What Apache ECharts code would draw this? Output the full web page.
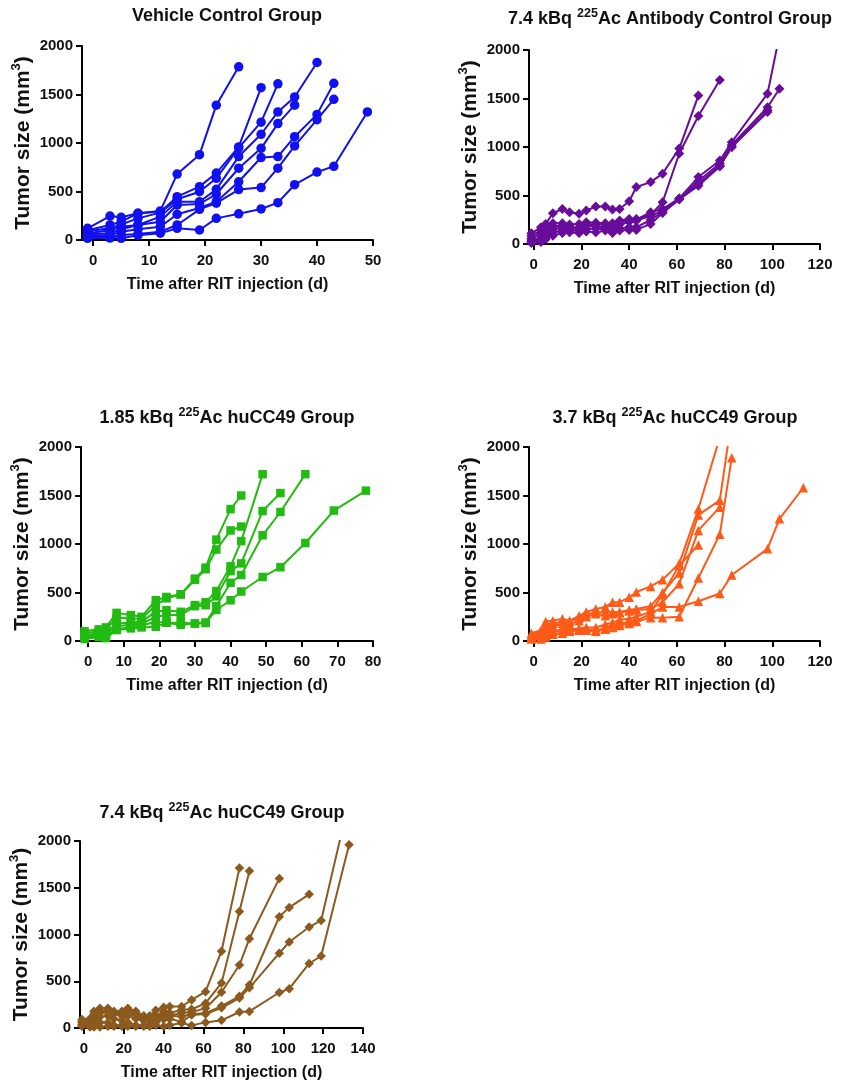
<!DOCTYPE html>
<html><head><meta charset="utf-8">
<script src="https://cdn.jsdelivr.net/npm/echarts@6/dist/echarts.min.js"></script>
<style>html,body{margin:0;padding:0;background:#fff}#c{width:845px;height:1082px}</style>
</head><body><div id="c"></div>
<script>
// ---------- DATA ----------
const tickLabelsY = [0, 500, 1000, 1500, 2000];

// Vehicle Control Group
const vehicleDays = [-1,3,5,8,12,15,19,22,26,30,33,36,40,43,49];
const vehicleMice = [
  [120,247,234,275,300,680,880,1390,1785],
  [100,155,189,275,290,447,550,690,960,1570],
  [90,120,160,223,282,420,498,636,950,1215,1610],
  [70,100,137,155,241,395,395,522,860,1090,1320,1475,1830],
  [60,69,110,155,189,361,371,474,740,945,1200,1390],
  [50,50,86,110,137,265,330,395,600,850,860,1065,1295,1615],
  [30,34,52,62,86,155,316,380,520,540,740,970,1240,1450],
  [17,20,17,50,70,120,103,223,270,320,385,570,700,760,1320]
];
const vehicleTicksX = [0,10,20,30,40,50];

// 7.4 kBq 225Ac Antibody Control Group
const abDays = [-1,3,5,8,12,15,19,22,26,30,33,36,40,43,49,54,61,69,78,83,98,103];
const abMice = [
  [110,172,207,317,362,328,311,345,386,386,355,360,441,587,638,725,984,1530],
  [86,138,180,214,214,200,207,224,220,214,214,241,259,259,300,431,933,1320,1690],
  [60,100,150,180,190,180,166,200,200,200,200,230,250,250,328,360,470,690,860,1050,1550,2150],
  [40,60,110,150,172,160,160,190,180,172,172,200,230,240,290,340,470,650,830,1020,1410,1600],
  [25,34,80,120,138,140,138,155,160,150,138,160,172,172,250,330,466,620,810,1000,1380],
  [10,20,50,86,114,120,114,130,120,138,114,138,145,145,207,320,460,600,800,1000,1360]
];
const abTicksX = [0,20,40,60,80,100,120];

// 1.85 kBq 225Ac huCC49 Group
const lowDays = [-1,3,5,8,12,15,19,22,26,30,33,36,40,43,49,54,61,69,78];
const lowMice = [
  [100,120,140,290,267,249,420,454,482,643,756,1045,1360,1500],
  [80,100,120,240,233,230,369,440,480,630,740,943,1140,1180],
  [60,80,90,180,188,200,301,318,301,370,400,515,770,1030,1720],
  [50,60,70,150,170,180,249,267,267,359,369,460,720,800,1340,1525],
  [30,50,50,120,147,160,198,188,188,180,190,360,600,680,1090,1330,1720],
  [20,40,30,113,130,140,147,188,166,180,185,320,420,510,660,760,1010,1345,1550]
];
const lowTicksX = [0,10,20,30,40,50,60,70,80];

// 3.7 kBq 225Ac huCC49 Group
const midDays = [-1,3,5,8,12,15,19,22,26,30,33,36,40,43,49,54,61,69,78,83,98,103,113];
const midMice = [
  [80,110,200,210,230,210,260,300,330,350,400,400,450,505,563,632,800,1360,2100],
  [60,100,160,180,200,200,240,280,290,300,300,300,320,330,360,500,700,1300,1450,2300],
  [50,80,140,150,180,170,210,250,280,260,280,290,310,320,330,400,590,1140,1380],
  [40,50,80,100,120,120,130,140,140,170,190,220,230,250,300,480,780,990],
  [30,40,60,90,110,110,120,120,110,130,150,180,190,210,280,350,350,410,490,680,950,1260,1580],
  [20,20,40,70,80,100,110,110,100,120,140,160,180,200,240,240,250,650,1100,1890]
];
const midTicksX = [0,20,40,60,80,100,120];

// 7.4 kBq 225Ac huCC49 Group
const highDays = [-1,3,5,8,12,15,19,22,26,30,33,36,40,43,49,54,61,69,78,83,98,103,113,119,133];
const highMice = [
  [90,100,180,210,210,180,180,210,180,130,130,190,223,230,230,300,388,821,1711],
  [70,80,150,180,190,160,160,190,150,110,110,130,181,160,194,200,265,480,1247,1680],
  [60,60,120,160,170,150,130,170,140,100,100,100,146,130,163,170,212,382,673,955,1600],
  [40,40,80,120,130,100,80,130,100,80,80,100,130,130,123,150,159,234,340,460,1190,1290,1430],
  [30,20,30,60,60,30,30,60,30,30,40,60,93,100,65,140,150,216,320,430,800,920,1080,1150,2430],
  [20,10,10,10,20,20,20,20,20,20,20,30,16,30,53,28,60,82,171,177,380,420,690,770,1960]
];
const highTicksX = [0,20,40,60,80,100,120,140];

// ---------- LAYOUT / STYLE ----------
const FONT = "'Liberation Sans', Arial, Helvetica, sans-serif";
const TXT = '#111';
const panels = [
  {title:'Vehicle Control Group', days:vehicleDays, mice:vehicleMice, ticks:vehicleTicksX, xMax:50,
   color:'#1010f0', symbol:'circle', size:9.5, grid:{left:82,top:46,width:291,height:194}, tx:227, ty:16},
  {title:'7.4 kBq {sup|225}Ac Antibody Control Group', days:abDays, mice:abMice, ticks:abTicksX, xMax:120,
   color:'#680c9c', symbol:'diamond', size:10, grid:{left:529,top:50,width:291,height:194}, tx:670, ty:19},
  {title:'1.85 kBq {sup|225}Ac huCC49 Group', days:lowDays, mice:lowMice, ticks:lowTicksX, xMax:80,
   color:'#22bb11', symbol:'rect', size:8.5, grid:{left:81,top:447,width:292,height:194}, tx:227, ty:418},
  {title:'3.7 kBq {sup|225}Ac huCC49 Group', days:midDays, mice:midMice, ticks:midTicksX, xMax:120,
   color:'#ff5a18', symbol:'triangle', size:9.5, grid:{left:529,top:447,width:291,height:194}, tx:675, ty:418},
  {title:'7.4 kBq {sup|225}Ac huCC49 Group', days:highDays, mice:highMice, ticks:highTicksX, xMax:140,
   color:'#8c5a1e', symbol:'diamond', size:9.5, grid:{left:80,top:841,width:283,height:189}, tx:222, ty:813}
];

const grids = [], xAxes = [], yAxes = [], series = [], graphics = [];
panels.forEach((p, i) => {
  grids.push(Object.assign({containLabel:false}, p.grid));
  xAxes.push({
    type:'value', gridIndex:i, min:-2, max:p.xMax,
    axisLine:{onZero:false, lineStyle:{color:'#000', width:2}},
    axisTick:{length:6, lineStyle:{color:'#000', width:2}, customValues:p.ticks},
    axisLabel:{customValues:p.ticks, fontSize:15, fontWeight:'bold', color:TXT, margin:13, fontFamily:FONT},
    splitLine:{show:false},
    name:'Time after RIT injection (d)', nameLocation:'middle', nameGap:37,
    nameTextStyle:{fontSize:16, fontWeight:'bold', color:TXT, fontFamily:FONT}
  });
  yAxes.push({
    type:'value', gridIndex:i, min:0, max:2000, interval:500,
    axisLine:{show:true, onZero:false, lineStyle:{color:'#000', width:2}},
    axisTick:{show:true, length:6, lineStyle:{color:'#000', width:2}, customValues:tickLabelsY},
    axisLabel:{customValues:tickLabelsY, formatter:(v) => String(v), fontSize:15, fontWeight:'bold', color:TXT, margin:9, fontFamily:FONT},
    splitLine:{show:false},
    name:'Tumor size (mm{sup|3})', nameLocation:'middle', nameGap:39, nameRotate:90,
    nameTextStyle:{fontSize:21, fontWeight:'bold', color:TXT, fontFamily:FONT, lineHeight:26,
      rich:{sup:{fontSize:13, fontWeight:'bold', color:TXT, fontFamily:FONT, verticalAlign:'top', lineHeight:13}}}
  });
  p.mice.forEach((vals) => {
    series.push({
      type:'line', xAxisIndex:i, yAxisIndex:i, clip:true,
      data: vals.map((v, k) => [p.days[k], v]),
      symbol:p.symbol, symbolSize:p.size, showSymbol:true,
      lineStyle:{color:p.color, width:2},
      itemStyle:{color:p.color, borderWidth:0},
      emphasis:{disabled:true}, silent:true, animation:false
    });
  });
  graphics.push({
    type:'text', x:p.tx, y:p.ty,
    style:{text:p.title, fill:TXT, fontSize:18, fontWeight:'bold', fontFamily:FONT,
      align:'center', verticalAlign:'middle', lineHeight:24,
      rich:{sup:{fontSize:12.5, fontWeight:'bold', fill:TXT, fontFamily:FONT, verticalAlign:'top', lineHeight:12}}}
  });
});

const chart = echarts.init(document.getElementById('c'), null, {renderer:'canvas'});
chart.setOption({
  backgroundColor:'#fff', animation:false,
  grid:grids, xAxis:xAxes, yAxis:yAxes, series:series, graphic:graphics
});
</script>
</body></html>
